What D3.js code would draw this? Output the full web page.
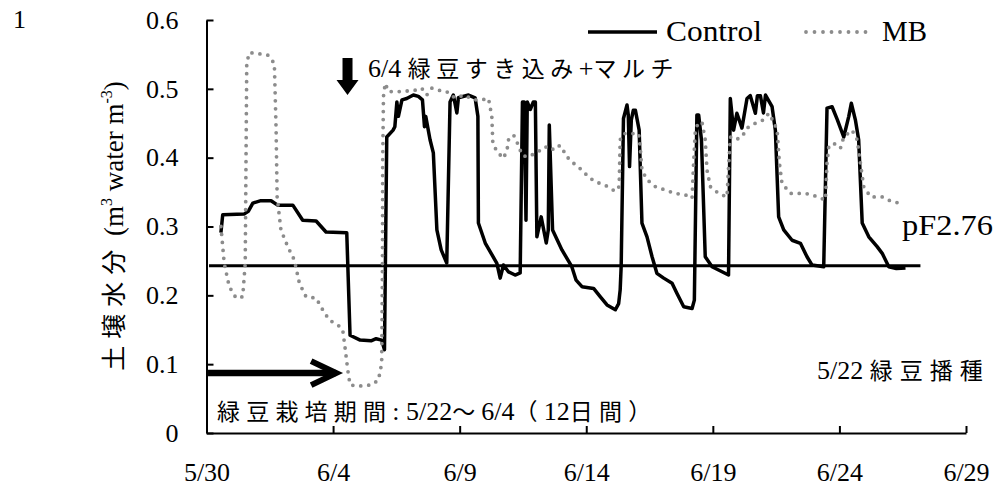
<!DOCTYPE html>
<html><head><meta charset="utf-8">
<script src="https://cdn.jsdelivr.net/npm/d3@7/dist/d3.min.js"></script>
<style>body{margin:0;background:#fff}svg{display:block}</style>
</head><body><svg id="c" width="998" height="489"></svg>
<script>
// ---- data ----
const xTickDays = [0, 5, 10, 15, 20, 25, 30];           // days since 5/30
const xTickLabels = ["5/30", "6/4", "6/9", "6/14", "6/19", "6/24", "6/29"];
const yTickValues = [0, 0.1, 0.2, 0.3, 0.4, 0.5, 0.6];
const yTickLabels = ["0", "0.1", "0.2", "0.3", "0.4", "0.5", "0.6"];
const seriesNames = ["Control", "MB"];
const pfValue = 0.243;
const pfDays = [0.1, 28.2];
// [day since 5/30, soil water content]
const controlSeries = [[0.57,0.291],[0.64,0.317],[1.48,0.318],[1.65,0.322],[1.83,0.334],[2.15,0.3375],[2.55,0.3375],[2.81,0.331],[3.41,0.331],[3.80,0.309],[4.33,0.308],[4.72,0.292],[5.54,0.291],[5.67,0.142],[6.07,0.135],[6.5,0.134],[6.7,0.137],[6.92,0.135],[7.03,0.121],[7.12,0.430],[7.37,0.440],[7.44,0.445],[7.52,0.481],[7.58,0.46],[7.72,0.484],[7.91,0.486],[8.17,0.491],[8.37,0.489],[8.53,0.484],[8.61,0.445],[8.66,0.46],[8.83,0.426],[8.96,0.407],[9.10,0.295],[9.27,0.266],[9.49,0.247],[9.62,0.481],[9.75,0.491],[9.89,0.465],[9.95,0.487],[10.35,0.491],[10.61,0.487],[10.72,0.46],[10.74,0.305],[11.01,0.276],[11.47,0.2465],[11.60,0.225],[11.73,0.244],[11.93,0.234],[12.19,0.2295],[12.39,0.2325],[12.48,0.481],[12.55,0.481],[12.62,0.309],[12.67,0.481],[12.79,0.47],[12.91,0.481],[12.99,0.481],[13.05,0.285],[13.22,0.314],[13.42,0.276],[13.50,0.295],[13.54,0.4475],[13.67,0.295],[14.04,0.266],[14.43,0.2416],[14.6,0.222],[14.83,0.2126],[15.29,0.21],[15.55,0.198],[15.82,0.186],[16.15,0.179],[16.28,0.188],[16.34,0.208],[16.38,0.243],[16.47,0.457],[16.61,0.4765],[16.66,0.462],[16.71,0.387],[16.78,0.455],[16.86,0.469],[16.94,0.469],[17.09,0.440],[17.20,0.305],[17.40,0.285],[17.60,0.256],[17.79,0.232],[18.06,0.225],[18.39,0.2175],[18.58,0.203],[18.85,0.1835],[19.18,0.181],[19.27,0.193],[19.37,0.462],[19.44,0.462],[19.55,0.426],[19.70,0.256],[19.97,0.2416],[20.62,0.2295],[20.69,0.486],[20.82,0.440],[20.95,0.4645],[21.15,0.443],[21.35,0.486],[21.48,0.49],[21.68,0.4645],[21.76,0.49],[21.88,0.49],[22.0,0.465],[22.08,0.491],[22.34,0.474],[22.47,0.440],[22.60,0.314],[22.80,0.295],[23.13,0.280],[23.46,0.2756],[23.72,0.256],[23.92,0.244],[24.38,0.2416],[24.51,0.472],[24.71,0.474],[24.92,0.455],[25.17,0.430],[25.37,0.460],[25.47,0.479],[25.63,0.455],[25.76,0.426],[25.90,0.305],[26.16,0.285],[26.49,0.2707],[26.69,0.261],[26.95,0.2416],[27.25,0.239],[27.61,0.2397]];
const mbSeries = [[0.57,0.30],[0.70,0.2465],[0.90,0.2126],[1.17,0.196],[1.43,0.198],[1.53,0.2465],[1.56,0.392],[1.59,0.537],[1.69,0.5525],[1.96,0.5516],[2.42,0.549],[2.68,0.537],[2.75,0.440],[2.79,0.343],[2.94,0.295],[3.21,0.2707],[3.47,0.2513],[3.67,0.2175],[3.93,0.198],[4.33,0.196],[4.59,0.179],[4.85,0.164],[5.19,0.157],[5.38,0.150],[5.47,0.125],[5.58,0.0915],[5.67,0.070],[6.0,0.068],[6.53,0.070],[6.79,0.077],[6.92,0.101],[6.95,0.2465],[6.96,0.392],[6.99,0.489],[7.06,0.508],[7.19,0.496],[7.38,0.496],[7.71,0.496],[8.24,0.498],[8.5,0.501],[8.70,0.491],[8.9,0.501],[9.16,0.498],[9.49,0.496],[9.69,0.489],[9.89,0.487],[10.15,0.491],[10.61,0.484],[10.88,0.484],[11.14,0.486],[11.27,0.46],[11.31,0.421],[11.47,0.409],[11.73,0.399],[11.87,0.411],[11.93,0.426],[12.13,0.433],[12.32,0.418],[12.46,0.404],[12.66,0.401],[12.85,0.404],[13.11,0.409],[13.38,0.416],[13.64,0.411],[13.84,0.418],[14.04,0.416],[14.17,0.404],[14.43,0.394],[14.83,0.382],[15.09,0.372],[15.36,0.365],[15.75,0.360],[16.15,0.351],[16.30,0.358],[16.34,0.426],[16.47,0.435],[16.87,0.435],[17.07,0.435],[17.13,0.416],[17.20,0.382],[17.40,0.368],[17.73,0.358],[18.12,0.353],[18.52,0.348],[18.91,0.346],[19.18,0.341],[19.24,0.392],[19.31,0.440],[19.44,0.452],[19.58,0.450],[19.70,0.426],[19.77,0.382],[19.90,0.358],[20.23,0.348],[20.56,0.343],[20.63,0.392],[20.69,0.430],[20.89,0.426],[21.15,0.430],[21.35,0.443],[21.68,0.450],[22.01,0.455],[22.21,0.4645],[22.40,0.452],[22.54,0.440],[22.63,0.392],[22.73,0.363],[23.06,0.348],[23.66,0.348],[23.92,0.346],[24.45,0.3385],[24.51,0.392],[24.58,0.416],[24.77,0.421],[25.04,0.4136],[25.17,0.430],[25.50,0.440],[25.70,0.426],[25.83,0.392],[25.96,0.358],[26.23,0.343],[26.69,0.343],[27.08,0.336],[27.41,0.334]];

// ---- drawing ----
const LAT = "'Liberation Serif', 'Noto Sans CJK JP', serif";
const CJK = "'Noto Sans CJK JP', sans-serif";
const svg = d3.select("#c");
const x = d3.scaleLinear().domain([0, 30]).range([206.5, 966]);
const y = d3.scaleLinear().domain([0, 0.6]).range([433, 20]);

// axes
const yAxis = d3.axisLeft(y).tickValues(yTickValues).tickSize(-7).tickSizeOuter(0)
  .tickPadding(28).tickFormat((d, i) => yTickLabels[i]);
const gy = svg.append("g").attr("transform", `translate(${x(0)},0)`).call(yAxis);
const xAxis = d3.axisBottom(x).tickValues(xTickDays).tickSize(-7).tickSizeOuter(0)
  .tickPadding(30).tickFormat((d, i) => xTickLabels[i]);
const gx = svg.append("g").attr("transform", `translate(0,${y(0)})`).call(xAxis);
[gx, gy].forEach(g => {
  g.attr("font-family", LAT).attr("font-size", 26);
  g.selectAll("path,line").attr("stroke", "#000").attr("stroke-width", 2);
  g.selectAll("text").attr("font-family", LAT).attr("font-size", 26).attr("fill", "#000");
});

// pF line
svg.append("line")
  .attr("x1", x(pfDays[0])).attr("x2", x(pfDays[1]))
  .attr("y1", y(pfValue)).attr("y2", y(pfValue))
  .attr("stroke", "#000").attr("stroke-width", 3);

const line = d3.line().x(d => x(d[0])).y(d => y(d[1]));
svg.append("path").datum(controlSeries).attr("d", line)
  .attr("fill", "none").attr("stroke", "#000").attr("stroke-width", 3.5)
  .attr("stroke-linejoin", "round");
svg.append("path").datum(mbSeries).attr("d", line)
  .attr("fill", "none").attr("stroke", "#8c8c8c").attr("stroke-width", 3.8)
  .attr("stroke-linecap", "round").attr("stroke-dasharray", "0 8");

// legend
const leg = svg.append("g");
leg.append("line").attr("x1", 588).attr("x2", 657).attr("y1", 32).attr("y2", 32)
  .attr("stroke", "#000").attr("stroke-width", 3.5);
leg.append("text").attr("x", 666).attr("y", 41).text(seriesNames[0])
  .attr("font-family", LAT).attr("font-size", 29).attr("textLength", 96).attr("lengthAdjust", "spacingAndGlyphs");
leg.append("line").attr("x1", 806).attr("x2", 874).attr("y1", 32).attr("y2", 32)
  .attr("stroke", "#8c8c8c").attr("stroke-width", 3.8).attr("stroke-linecap", "round").attr("stroke-dasharray", "0 8.5");
leg.append("text").attr("x", 882).attr("y", 41).text(seriesNames[1])
  .attr("font-family", LAT).attr("font-size", 29).attr("textLength", 45).attr("lengthAdjust", "spacingAndGlyphs");

// mixed Latin / CJK text
const CJK_RE = /[\u3000-\u9fff\uff00-\uffef]/;
function mixed(str, xp, yp, latSize, cjkSize, cjkSpacing) {
  const t = svg.append("text").attr("x", xp).attr("y", yp).attr("fill", "#000");
  const runs = str.match(/[\u3000-\u9fff\uff00-\uffef]+|[^\u3000-\u9fff\uff00-\uffef]+/g);
  runs.forEach(r => {
    const isC = CJK_RE.test(r);
    t.append("tspan").text(r)
      .attr("font-family", isC ? CJK : LAT)
      .attr("font-size", isC ? cjkSize : latSize)
      .attr("letter-spacing", isC ? cjkSpacing : 0);
  });
  return t;
}
svg.append("text").attr("x", 13).attr("y", 28).text("1").attr("font-family", LAT).attr("font-size", 26);
mixed("6/4 緑豆すき込み+マルチ", 368, 77, 26, 23, 5.5);
svg.append("text").attr("x", 902).attr("y", 235).text("pF2.76").attr("font-family", LAT)
  .attr("font-size", 29).attr("textLength", 91).attr("lengthAdjust", "spacingAndGlyphs");
mixed("5/22 緑豆播種", 817, 379, 26, 23, 7);
mixed("緑豆栽培期間: 5/22～6/4（12日間）", 217, 420, 26, 23, 6.2);

// y label
const yl = svg.append("text").attr("transform", "translate(123,226) rotate(-90)")
  .attr("text-anchor", "middle").attr("font-family", LAT).attr("font-size", 27).attr("fill", "#000");
yl.append("tspan").text("土壌水分").attr("font-family", CJK).attr("font-size", 25).attr("letter-spacing", 7);
yl.append("tspan").text(" (m");
yl.append("tspan").text("3").attr("font-size", 16).attr("dy", -11);
yl.append("tspan").text(" water m").attr("dy", 11);
yl.append("tspan").text("-3").attr("font-size", 16).attr("dy", -11);
yl.append("tspan").text(")").attr("dy", 11);

// down arrow (6/4)
const ax = x(5.57);
svg.append("path")
  .attr("d", `M${ax-5},58 H${ax+5} V80 H${ax+11} L${ax},95 L${ax-11},80 H${ax-5} Z`)
  .attr("fill", "#000");
// right arrow (cultivation period)
const ry = y(0.087);
svg.append("line").attr("x1", x(0.06)).attr("x2", x(5.1)).attr("y1", ry).attr("y2", ry)
  .attr("stroke", "#000").attr("stroke-width", 6.5);
svg.append("path").attr("d", `M${x(5.12)-25},${ry-12} L${x(5.12)},${ry} L${x(5.12)-25},${ry+12}`)
  .attr("fill", "none").attr("stroke", "#000").attr("stroke-width", 6).attr("stroke-linejoin", "miter");
</script></body></html>
